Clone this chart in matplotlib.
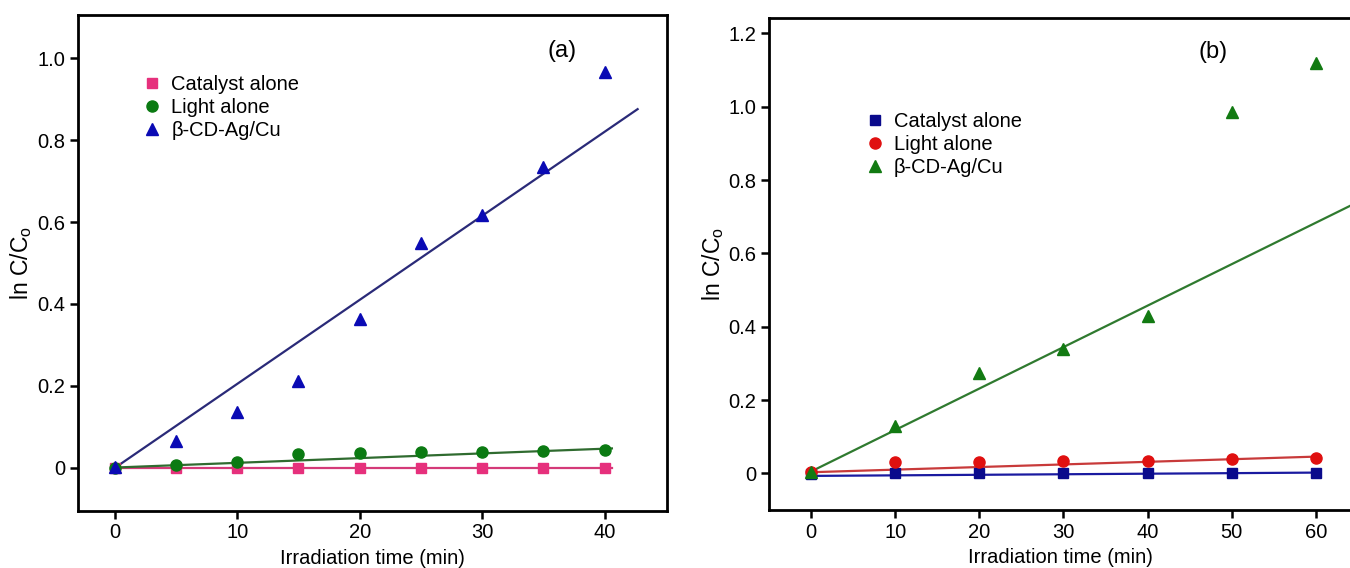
import numpy as np
import matplotlib
matplotlib.use("Agg")
import matplotlib.pyplot as plt

plt.rcParams['font.family'] = ['Liberation Sans', 'DejaVu Sans']
plt.rcParams['mathtext.default'] = 'regular'

# ---------------- data: panel (a) ----------------
time_a = [0, 5, 10, 15, 20, 25, 30, 35, 40]
catalyst_a = [0.0, 0.0, 0.0, 0.0, 0.0, 0.0, 0.0, 0.0, 0.0]
light_a = [0.0, 0.008, 0.015, 0.033, 0.037, 0.038, 0.038, 0.042, 0.045]
bcd_a = [0.003, 0.065, 0.137, 0.213, 0.363, 0.548, 0.618, 0.735, 0.965]
# fitted lines (start value, slope, x end)
fit_catalyst_a = (0.0, 0.0, 40.6)
fit_light_a = (0.001, 0.00115, 40.6)
fit_bcd_a = (0.0, 0.0205, 42.7)

# ---------------- data: panel (b) ----------------
time_b = [0, 10, 20, 30, 40, 50, 60]
catalyst_b = [-0.003, 0.0, 0.0, 0.0, 0.0, 0.0, 0.0]
light_b = [0.003, 0.030, 0.032, 0.033, 0.035, 0.040, 0.043]
bcd_b = [0.005, 0.128, 0.275, 0.340, 0.430, 0.985, 1.120]
fit_catalyst_b = (-0.007, 0.00015, 60.6)
fit_light_b = (0.003, 0.00071, 60.6)
fit_bcd_b = (0.005, 0.01131, 66.0)

labels = ['Catalyst alone', 'Light alone', 'β-CD-Ag/Cu']

fig = plt.figure(figsize=(13.5, 5.68), dpi=100)
W, H = 1350, 568
ax1 = fig.add_axes([78 / W, 1 - 511 / H, (667 - 78) / W, (511 - 15) / H])
ax2 = fig.add_axes([769 / W, 1 - 510 / H, (1352 - 769) / W, (510 - 18) / H])


def fitline(ax, fit, color):
    b0, m, xe = fit
    xs = np.array([0.0, xe])
    ax.plot(xs, b0 + m * xs, color=color, lw=1.6, zorder=2)


def style(ax):
    for s in ax.spines.values():
        s.set_linewidth(2.0)
    ax.tick_params(direction='out', length=6, width=1.8, labelsize=14.5, pad=3)
    ax.set_xlabel('Irradiation time (min)', fontsize=14.5, labelpad=5)


# panel (a)
c_pink, c_green, c_blue = '#e6307c', '#0b7a12', '#0a0ab4'
fitline(ax1, fit_catalyst_a, '#d43a78')
fitline(ax1, fit_light_a, '#2f6b2f')
fitline(ax1, fit_bcd_a, '#2a2a78')
ax1.plot(time_a, catalyst_a, 's', color=c_pink, ms=7, ls='none', label=labels[0], zorder=3)
ax1.plot(time_a, light_a, 'o', color=c_green, ms=8, ls='none', label=labels[1], zorder=3)
ax1.plot(time_a, bcd_a, '^', color=c_blue, ms=9, ls='none', label=labels[2], zorder=3)
ax1.set_xlim(-3, 45.1)
ax1.set_ylim(-0.105, 1.105)
ax1.set_xticks([0, 10, 20, 30, 40])
ax1.set_yticks([0, 0.2, 0.4, 0.6, 0.8, 1.0])
ax1.set_yticklabels(['0', '0.2', '0.4', '0.6', '0.8', '1.0'])
style(ax1)
ax1.set_ylabel('ln C/C$_o$', fontsize=16.5)
ax1.yaxis.set_label_coords(-0.0747, 0.5)
ax1.legend(loc='upper left', bbox_to_anchor=(0.095, 0.895), frameon=False, fontsize=14.5,
           handletextpad=0.45, labelspacing=0.2, handlelength=1.0, borderaxespad=0)
ax1.text(0.822, 0.927, '(a)', transform=ax1.transAxes, fontsize=17, ha='center', va='center')

# panel (b)
b_blue, b_red, b_green = '#0a0a8c', '#e01010', '#127a12'
fitline(ax2, fit_catalyst_b, '#1a1aa0')
fitline(ax2, fit_light_b, '#c83a3a')
fitline(ax2, fit_bcd_b, '#2f7a2f')
ax2.plot(time_b, catalyst_b, 's', color=b_blue, ms=7, ls='none', label=labels[0], zorder=3)
ax2.plot(time_b, light_b, 'o', color=b_red, ms=8, ls='none', label=labels[1], zorder=3)
ax2.plot(time_b, bcd_b, '^', color=b_green, ms=9, ls='none', label=labels[2], zorder=3)
ax2.set_xlim(-5, 64.3)
ax2.set_ylim(-0.1, 1.242)
ax2.set_xticks([0, 10, 20, 30, 40, 50, 60])
ax2.set_yticks([0, 0.2, 0.4, 0.6, 0.8, 1.0, 1.2])
ax2.set_yticklabels(['0', '0.2', '0.4', '0.6', '0.8', '1.0', '1.2'])
style(ax2)
ax2.set_ylabel('ln C/C$_o$', fontsize=16.5)
ax2.yaxis.set_label_coords(-0.0738, 0.5)
ax2.spines['right'].set_visible(False)
ax2.legend(loc='upper left', bbox_to_anchor=(0.15, 0.826), frameon=False, fontsize=14.5,
           handletextpad=0.45, labelspacing=0.2, handlelength=1.0, borderaxespad=0)
ax2.text(0.762, 0.93, '(b)', transform=ax2.transAxes, fontsize=17, ha='center', va='center')

fig.savefig('out.png', dpi=100)
